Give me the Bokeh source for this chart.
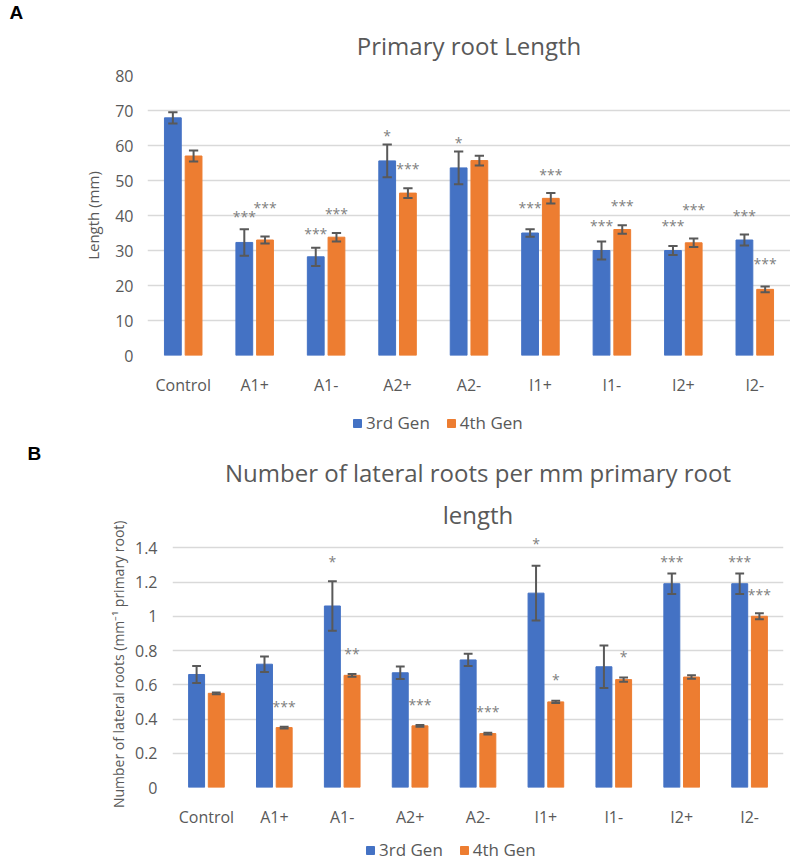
import numpy as np
from bokeh.plotting import figure
from bokeh.models import (ColumnDataSource, FactorRange, Legend, LegendItem, FixedTicker,
                          NumeralTickFormatter, Title, Range1d, Spacer)
from bokeh.transform import dodge
from bokeh.layouts import column, row
from bokeh.embed import file_html
from bokeh.resources import INLINE
from bokeh.core.properties import value

categories = ["Control", "A1+", "A1-", "A2+", "A2-", "I1+", "I1-", "I2+", "I2-"]
series_names = ["3rd Gen", "4th Gen"]

# Panel A: primary root length (mm)
len_3rd = [67.9, 32.3, 28.2, 55.6, 53.6, 35.0, 30.0, 30.0, 33.0]
len_3rd_err = [1.6, 3.8, 2.6, 4.7, 4.7, 1.1, 2.6, 1.3, 1.6]
len_4th = [57.0, 33.0, 33.8, 46.4, 55.7, 44.9, 36.0, 32.2, 18.9]
len_4th_err = [1.6, 1.0, 1.2, 1.4, 1.4, 1.5, 1.2, 1.2, 0.8]
len_3rd_sig = ["", "***", "***", "*", "*", "***", "***", "***", "***"]
len_3rd_sig_y = [0, 39.7, 35.0, 63.0, 60.8, 42.3, 37.1, 37.1, 40.1]
len_4th_sig = ["", "***", "***", "***", "", "***", "***", "***", "***"]
len_4th_sig_y = [0, 42.4, 40.5, 53.5, 0, 51.7, 43.0, 41.8, 26.2]
len_ticks = [0, 10, 20, 30, 40, 50, 60, 70, 80]

# Panel B: lateral roots per mm primary root
lat_3rd = [0.66, 0.72, 1.06, 0.67, 0.745, 1.135, 0.705, 1.19, 1.19]
lat_3rd_err = [0.05, 0.045, 0.145, 0.037, 0.036, 0.16, 0.124, 0.06, 0.06]
lat_4th = [0.55, 0.35, 0.655, 0.36, 0.315, 0.50, 0.63, 0.645, 1.0]
lat_4th_err = [0.005, 0.005, 0.008, 0.005, 0.005, 0.007, 0.012, 0.01, 0.017]
lat_3rd_sig = ["", "", "*", "", "", "*", "", "***", "***"]
lat_3rd_sig_y = [0, 0, 1.319, 0, 0, 1.424, 0, 1.319, 1.319]
lat_4th_sig = ["", "***", "**", "***", "***", "*", "*", "", "***"]
lat_4th_sig_y = [0, 0.475, 0.784, 0.486, 0.446, 0.628, 0.763, 0, 1.127]
lat_ticks = [0, 0.2, 0.4, 0.6, 0.8, 1.0, 1.2, 1.4]

BLUE = "#4472C4"
ORANGE = "#ED7D31"
GREY = "#595959"
FONT = "Open Sans"
OFF = 0.145
BW = 0.235
CAP = 0.065


def make_title(text, size, style, color, align, standoff, offset=0):
    kw = dict(text=text, align=align, text_font=FONT if style == "normal" else "Liberation Sans",
              text_font_size=size, text_font_style=style, text_color=color, offset=offset)
    try:
        return Title(standoff=standoff, **kw)
    except ValueError:
        return Title(standoff=0, **kw)


def make_chart(title_lines, standoffs, panel, panel_offset, ylabel, y_end, ticks, fmt,
               v3, e3, v4, e4, s3, s3y, s4, s4y, width, height, top, bottom, right,
               ylabel_size, tick_standoff, label_standoff):
    p = figure(x_range=FactorRange(*categories), y_range=Range1d(0, y_end),
               width=width, height=height, output_backend="svg", toolbar_location=None,
               min_border_left=147, min_border_right=right, min_border_top=top,
               min_border_bottom=bottom)
    p.outline_line_color = None
    src = ColumnDataSource(dict(cat=categories, v3=v3, v4=v4,
                                lo3=[a - b for a, b in zip(v3, e3)],
                                hi3=[a + b for a, b in zip(v3, e3)],
                                lo4=[a - b for a, b in zip(v4, e4)],
                                hi4=[a + b for a, b in zip(v4, e4)],
                                s3=s3, s3y=s3y, s4=s4, s4y=s4y))
    p.vbar(x=dodge("cat", -OFF, range=p.x_range), top="v3", width=BW, source=src,
           fill_color=BLUE, line_color=BLUE)
    p.vbar(x=dodge("cat", OFF, range=p.x_range), top="v4", width=BW, source=src,
           fill_color=ORANGE, line_color=ORANGE)
    for o, lo, hi in ((-OFF, "lo3", "hi3"), (OFF, "lo4", "hi4")):
        p.segment(x0=dodge("cat", o, range=p.x_range), x1=dodge("cat", o, range=p.x_range),
                  y0=lo, y1=hi, source=src, line_color=GREY, line_width=2)
        for yy in (lo, hi):
            p.segment(x0=dodge("cat", o - CAP, range=p.x_range),
                      x1=dodge("cat", o + CAP, range=p.x_range),
                      y0=yy, y1=yy, source=src, line_color=GREY, line_width=2)
    for o, t, ty in ((-OFF, "s3", "s3y"), (OFF, "s4", "s4y")):
        p.text(x=dodge("cat", o, range=p.x_range), y=ty, text=t, source=src,
               text_font=value(FONT), text_font_size="14px", text_color="#7f7f7f",
               text_align="center", text_baseline="middle")

    p.xgrid.grid_line_color = None
    p.ygrid.grid_line_color = "#d9d9d9"
    p.ygrid.grid_line_width = 1.5
    p.yaxis.ticker = FixedTicker(ticks=ticks)
    p.yaxis.formatter = fmt
    for ax in (p.xaxis[0], p.yaxis[0]):
        ax.axis_line_color = None
        ax.major_tick_line_color = None
        ax.minor_tick_line_color = None
        ax.major_label_text_font = FONT
        ax.major_label_text_font_size = "16px"
        ax.major_label_text_color = GREY
    p.xaxis.major_label_standoff = 12
    p.yaxis.major_label_standoff = tick_standoff
    p.yaxis.axis_label = ylabel
    p.yaxis.axis_label_text_font = FONT
    p.yaxis.axis_label_text_font_size = ylabel_size
    p.yaxis.axis_label_text_font_style = "normal"
    p.yaxis.axis_label_text_color = GREY
    p.yaxis.axis_label_standoff = label_standoff

    for line, so in zip(reversed(title_lines), standoffs):
        p.add_layout(make_title(line, "24px", "normal", GREY, "center", so), "above")
    # panel letter, outermost title row, aligned to the left edge of the page
    p.add_layout(make_title(panel, "19px", "bold", "black", "left", -21, panel_offset),
                 "above")
    return p


def make_legend(height, loc):
    lp = figure(x_range=FactorRange(*categories), y_range=Range1d(0, 1),
                width=790, height=height, output_backend="svg", toolbar_location=None,
                min_border_left=147, min_border_right=0, min_border_top=0,
                min_border_bottom=0)
    lp.axis.visible = False
    lp.grid.visible = False
    lp.outline_line_color = None
    # legend proxies with no drawable extent
    proxy = ColumnDataSource(dict(cat=[categories[0]], b=np.array([np.nan]),
                                  t=np.array([np.nan])))
    r3 = lp.vbar(x="cat", bottom="b", top="t", width=BW, source=proxy,
                 fill_color=BLUE, line_color=BLUE)
    r4 = lp.vbar(x="cat", bottom="b", top="t", width=BW, source=proxy,
                 fill_color=ORANGE, line_color=ORANGE)
    leg = Legend(items=[LegendItem(label=series_names[0], renderers=[r3]),
                        LegendItem(label=series_names[1], renderers=[r4])],
                 orientation="horizontal", location=loc,
                 border_line_color=None, background_fill_alpha=0,
                 label_text_font=FONT, label_text_font_size="17px",
                 label_text_color=GREY, glyph_width=10, glyph_height=10,
                 label_standoff=4, spacing=16, padding=0, margin=0)
    lp.add_layout(leg, "center")
    return lp


pA = make_chart(["Primary root Length"], [28], "A", -138, "Length (mm)", 80,
                len_ticks, NumeralTickFormatter(format="0"),
                len_3rd, len_3rd_err, len_4th, len_4th_err,
                len_3rd_sig, len_3rd_sig_y, len_4th_sig, len_4th_sig_y,
                width=790, height=405, top=75, bottom=50, right=0, ylabel_size="15px",
                tick_standoff=8, label_standoff=9)
legA = make_legend(35, (205, 6))
pB = make_chart(["Number of lateral roots per mm primary root", "length"], [14, 0], "B",
                -145, "Number of lateral  roots (mm\u207b\u00b9 primary root)", 1.46,
                lat_ticks, NumeralTickFormatter(format="0.[0]"),
                lat_3rd, lat_3rd_err, lat_4th, lat_4th_err,
                lat_3rd_sig, lat_3rd_sig_y, lat_4th_sig, lat_4th_sig_y,
                width=765, height=398, top=97, bottom=51, right=7, ylabel_size="14px",
                tick_standoff=9, label_standoff=4)
legB = make_legend(23, (218, 0))

layout = column(pA, legA, row(Spacer(width=25, height=398), pB, spacing=0), legB, spacing=0)
open("out.html", "w").write(file_html(layout, INLINE))
